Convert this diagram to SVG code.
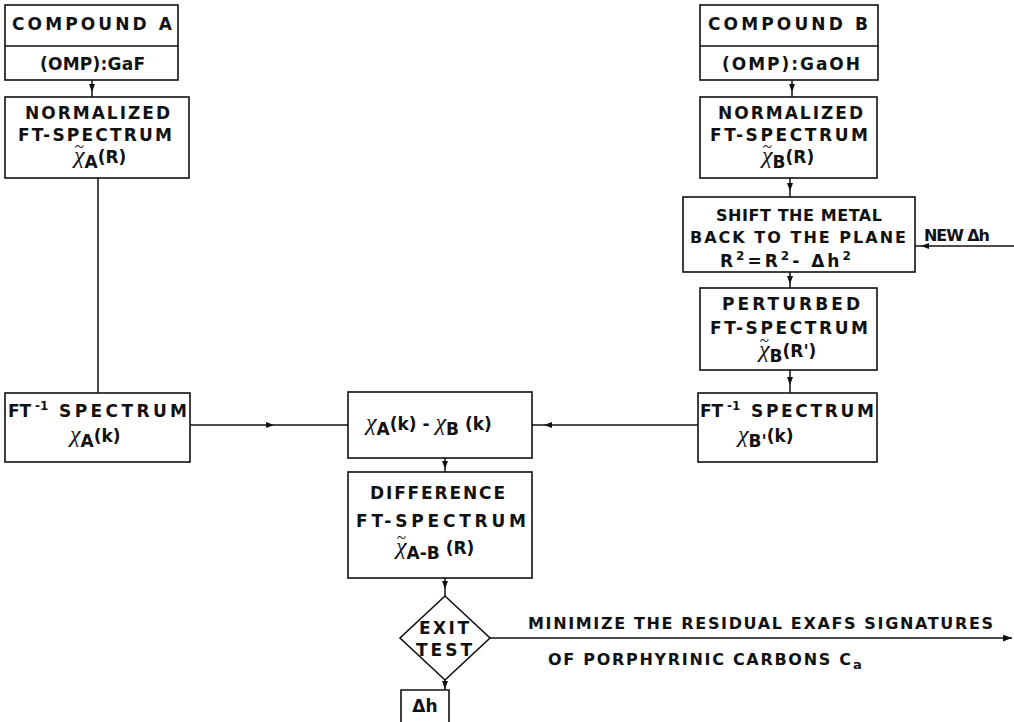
<svg xmlns="http://www.w3.org/2000/svg" width="1014" height="722" viewBox="0 0 1014 722">
<style>
.box{fill:#fff;stroke:#111;stroke-width:1.6}
.ln{fill:none;stroke:#111;stroke-width:1.5}
text{font-family:"DejaVu Sans","Liberation Sans",Arial,sans-serif;font-weight:bold;font-size:17px;fill:#111}
.c{text-anchor:middle}
.chi{font-family:"Liberation Serif","Times New Roman",serif;font-style:italic;font-weight:normal;font-size:24px}
.tl{font-family:"Liberation Serif","Times New Roman",serif;font-weight:normal;font-size:17px}
.sub{font-size:17px}
.sup{font-size:12px}
.sm{font-size:16px}
.n{font-size:16px}
</style>
<defs>
<marker id="am" viewBox="0 0 8 6" refX="4" refY="3" markerWidth="8" markerHeight="6" markerUnits="userSpaceOnUse" orient="auto"><path d="M0,0 L8,3 L0,6 z" fill="#111"/></marker>
<marker id="ae" viewBox="0 0 8 6" refX="8" refY="3" markerWidth="9" markerHeight="7" markerUnits="userSpaceOnUse" orient="auto"><path d="M0,0 L8,3 L0,6 z" fill="#111"/></marker>
</defs>
<g id="connectors">
<path class="ln" d="M92,80 L92,88 L92,97" marker-mid="url(#am)"/>
<path class="ln" d="M98,178 L98,393"/>
<path class="ln" d="M190,425 L270,425 L348,425" marker-mid="url(#am)"/>
<path class="ln" d="M698,425 L548,425 L532,425" marker-mid="url(#am)"/>
<path class="ln" d="M445,458 L445,465 L445,472" marker-mid="url(#am)"/>
<path class="ln" d="M445,578 L445,585 L445,596" marker-mid="url(#am)"/>
<path class="ln" d="M445,680 L445,685 L445,690" marker-mid="url(#am)"/>
<path class="ln" d="M490,638 L1012,638" marker-end="url(#ae)"/>
<path class="ln" d="M792,80 L792,88 L792,97" marker-mid="url(#am)"/>
<path class="ln" d="M790,178 L790,187 L790,197" marker-mid="url(#am)"/>
<path class="ln" d="M790,272 L790,280 L790,288" marker-mid="url(#am)"/>
<path class="ln" d="M790,370 L790,381 L790,393" marker-mid="url(#am)"/>
<path class="ln" d="M1014,246 L925,246 L915,246" marker-mid="url(#am)"/>
</g>
<g id="compoundA">
<rect class="box" x="5" y="5" width="173" height="75"/>
<line class="ln" x1="5" y1="46" x2="178" y2="46"/>
<text x="12" y="30" textLength="160" lengthAdjust="spacing">COMPOUND  A</text>
<text x="40" y="70" textLength="105" lengthAdjust="spacing">(OMP):GaF</text>
</g>
<g id="normA">
<rect class="box" x="5" y="97" width="184" height="81"/>
<text x="25" y="119" textLength="145" lengthAdjust="spacing">NORMALIZED</text>
<text x="18" y="141" textLength="154" lengthAdjust="spacing">FT-SPECTRUM</text>
<text x="74" y="152"><tspan class="tl">~</tspan><tspan class="chi" dx="-10" dy="11">χ</tspan><tspan class="sub" dy="5">A</tspan><tspan dy="-5">(R)</tspan></text>
</g>
<g id="ftA">
<rect class="box" x="5" y="393" width="185" height="69"/>
<text x="8" y="417">FT</text>
<text class="sup" x="35" y="410">-1</text>
<text x="59" y="417" textLength="128" lengthAdjust="spacing">SPECTRUM</text>
<text x="70" y="442"><tspan class="chi">χ</tspan><tspan class="sub" dy="5">A</tspan><tspan dy="-5">(k)</tspan></text>
</g>
<g id="diffK">
<rect class="box" x="348" y="392" width="184" height="66"/>
<text x="366" y="430"><tspan class="chi">χ</tspan><tspan class="sub" dy="5">A</tspan><tspan dy="-5">(k) - </tspan><tspan class="chi">χ</tspan><tspan class="sub" dy="5">B</tspan><tspan dy="-5"> (k)</tspan></text>
</g>
<g id="diffR">
<rect class="box" x="348" y="472" width="184" height="106"/>
<text x="370" y="499" textLength="135" lengthAdjust="spacing">DIFFERENCE</text>
<text x="356" y="527" textLength="170" lengthAdjust="spacing">FT-SPECTRUM</text>
<text x="396" y="543"><tspan class="tl">~</tspan><tspan class="chi" dx="-10" dy="11">χ</tspan><tspan class="sub" dy="5">A-B</tspan><tspan dy="-5"> (R)</tspan></text>
</g>
<g id="exit">
<polygon class="box" points="445,596 490,638 445,680 400,638"/>
<text x="419" y="634" textLength="50" lengthAdjust="spacing">EXIT</text>
<text x="416" y="656" textLength="56" lengthAdjust="spacing">TEST</text>
</g>
<g id="dh">
<path class="box" d="M401,722 L401,690 L449,690 L449,722"/>
<text class="c" x="425" y="712">Δh</text>
</g>
<g id="minimize">
<text class="sm" x="528" y="629" textLength="465" lengthAdjust="spacing">MINIMIZE THE RESIDUAL EXAFS SIGNATURES</text>
<text class="sm" x="548" y="665" textLength="303" lengthAdjust="spacing">OF PORPHYRINIC CARBONS C</text>
<text class="sm" x="853" y="669" style="font-size:13px">a</text>
</g>
<g id="compoundB">
<rect class="box" x="700" y="5" width="178" height="75"/>
<line class="ln" x1="700" y1="46" x2="878" y2="46"/>
<text x="708" y="30" textLength="160" lengthAdjust="spacing">COMPOUND  B</text>
<text x="722" y="70" textLength="138" lengthAdjust="spacing">(OMP):GaOH</text>
</g>
<g id="normB">
<rect class="box" x="700" y="97" width="177" height="81"/>
<text x="718" y="119" textLength="145" lengthAdjust="spacing">NORMALIZED</text>
<text x="710" y="141" textLength="158" lengthAdjust="spacing">FT-SPECTRUM</text>
<text x="762" y="152"><tspan class="tl">~</tspan><tspan class="chi" dx="-10" dy="11">χ</tspan><tspan class="sub" dy="5">B</tspan><tspan dy="-5">(R)</tspan></text>
</g>
<g id="shift">
<rect class="box" x="683" y="197" width="232" height="75"/>
<text class="n" x="716" y="221" textLength="166" lengthAdjust="spacing">SHIFT THE METAL</text>
<text class="n" x="690" y="243" textLength="216" lengthAdjust="spacing">BACK TO THE PLANE</text>
<text x="720" y="267" letter-spacing="3">R<tspan class="sup" dy="-7">2</tspan><tspan dy="7">=R</tspan><tspan class="sup" dy="-7">2</tspan><tspan dy="7">- Δh</tspan><tspan class="sup" dy="-7">2</tspan></text>
</g>
<g id="newdh">
<text class="n" x="924" y="241" textLength="66" lengthAdjust="spacing">NEW Δh</text>
</g>
<g id="perturbed">
<rect class="box" x="700" y="288" width="177" height="82"/>
<text x="722" y="310" textLength="138" lengthAdjust="spacing">PERTURBED</text>
<text x="710" y="334" textLength="158" lengthAdjust="spacing">FT-SPECTRUM</text>
<text x="759" y="346"><tspan class="tl">~</tspan><tspan class="chi" dx="-10" dy="11">χ</tspan><tspan class="sub" dy="5">B</tspan><tspan dy="-5">(R')</tspan></text>
</g>
<g id="ftB">
<rect class="box" x="698" y="393" width="179" height="69"/>
<text x="700" y="417">FT</text>
<text class="sup" x="727" y="410">-1</text>
<text x="751" y="417" textLength="123" lengthAdjust="spacing">SPECTRUM</text>
<text x="738" y="442"><tspan class="chi">χ</tspan><tspan class="sub" dy="5">B'</tspan><tspan dy="-5">(k)</tspan></text>
</g>
</svg>
